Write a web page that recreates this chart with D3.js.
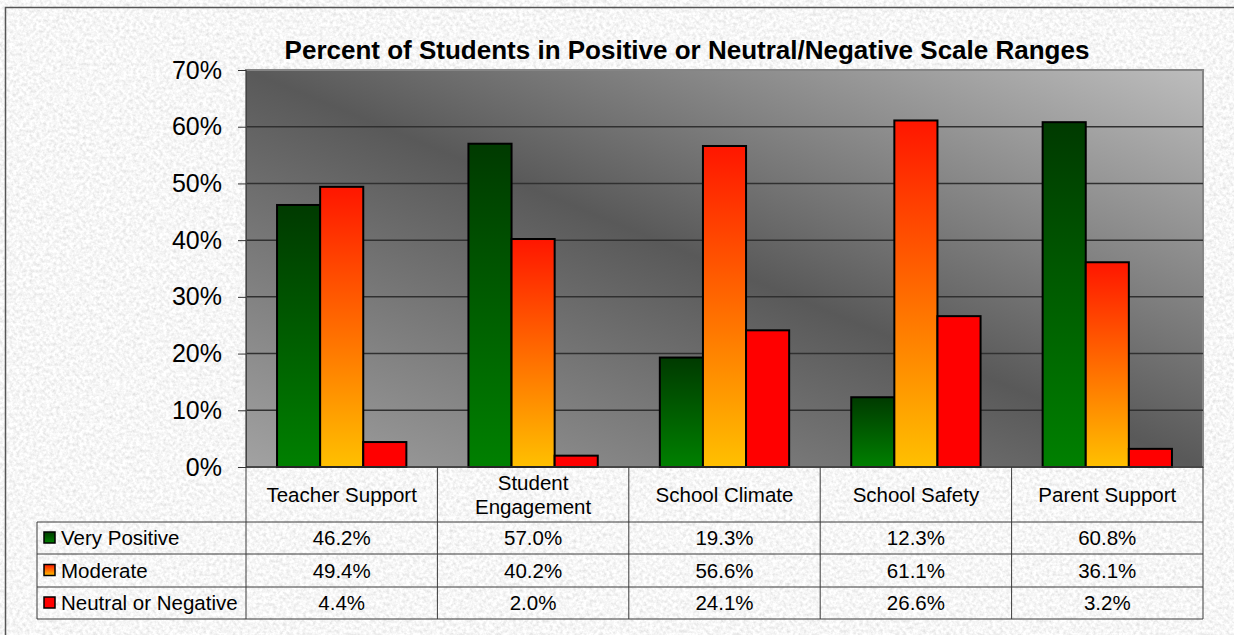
<!DOCTYPE html>
<html>
<head>
<meta charset="utf-8">
<script src="https://cdn.jsdelivr.net/npm/d3@7"></script>
<style>
  html, body { margin: 0; padding: 0; background: #ececec; }
  svg { display: block; font-family: "Liberation Sans", Arial, sans-serif; }
</style>
</head>
<body>
<svg id="chart" width="1234" height="635"></svg>
<script>
// Chart data
const categories = ["Teacher Support", "Student Engagement", "School Climate", "School Safety", "Parent Support"];
const seriesNames = ["Very Positive", "Moderate", "Neutral or Negative"];
const veryPositive = [46.2, 57.0, 19.3, 12.3, 60.8];
const moderate = [49.4, 40.2, 56.6, 61.1, 36.1];
const neutralNegative = [4.4, 2.0, 24.1, 26.6, 3.2];
const yTicks = [0, 10, 20, 30, 40, 50, 60, 70];
const title = "Percent of Students in Positive or Neutral/Negative Scale Ranges";

const seriesValues = [veryPositive, moderate, neutralNegative];
const fills = ["url(#gGreen)", "url(#gOrange)", "#ff0000"];

const svg = d3.select("#chart");
const W = 1234, H = 635;

// Plot area
const plotLeft = 246, plotRight = 1203, plotTop = 70, plotBottom = 467;
const tableLeft = 37;
const rowLines = [522, 554, 587, 619];

const defs = svg.append("defs");

// paper texture
const paper = defs.append("filter").attr("id", "paper")
  .attr("x", 0).attr("y", 0).attr("width", "100%").attr("height", "100%");
paper.append("feTurbulence")
  .attr("type", "fractalNoise")
  .attr("baseFrequency", 0.3)
  .attr("numOctaves", 3)
  .attr("seed", 7);
paper.append("feColorMatrix")
  .attr("type", "matrix")
  .attr("values", "0.45 0 0 0 0.7  0.45 0 0 0 0.7  0.45 0 0 0 0.7  0 0 0 0 1");

// plot background gradient (dark along the main diagonal)
const bg = defs.append("linearGradient").attr("id", "gPlot")
  .attr("x1", 0).attr("y1", 1).attr("x2", 1).attr("y2", 0);
bg.append("stop").attr("offset", 0).attr("stop-color", "#a2a2a2");
bg.append("stop").attr("offset", 0.5).attr("stop-color", "#595959");
bg.append("stop").attr("offset", 1).attr("stop-color", "#bdbdbd");

const gGreen = defs.append("linearGradient").attr("id", "gGreen")
  .attr("x1", 0).attr("y1", 0).attr("x2", 0).attr("y2", 1);
gGreen.append("stop").attr("offset", 0).attr("stop-color", "#003a00");
gGreen.append("stop").attr("offset", 1).attr("stop-color", "#008000");

const gOrange = defs.append("linearGradient").attr("id", "gOrange")
  .attr("x1", 0).attr("y1", 0).attr("x2", 0).attr("y2", 1);
gOrange.append("stop").attr("offset", 0).attr("stop-color", "#ff1600");
gOrange.append("stop").attr("offset", 1).attr("stop-color", "#ffc000");

// background
svg.append("rect").attr("width", W).attr("height", H)
  .attr("fill", "#ebebeb").attr("filter", "url(#paper)");

// outer chart border
svg.append("rect")
  .attr("x", 5.5).attr("y", 7.5)
  .attr("width", W + 20).attr("height", H + 20)
  .attr("fill", "none").attr("stroke", "#555").attr("stroke-width", 1.5);

// scales
const x0 = d3.scaleBand().domain(categories).range([plotLeft, plotRight]).padding(0);
const x1 = d3.scaleBand().domain(seriesNames).range([0, x0.bandwidth()])
  .paddingInner(0).paddingOuter(0.72);
const y = d3.scaleLinear().domain([0, 70]).range([plotBottom, plotTop]);

// plot area
svg.append("rect")
  .attr("x", plotLeft).attr("y", plotTop)
  .attr("width", plotRight - plotLeft).attr("height", plotBottom - plotTop)
  .attr("fill", "url(#gPlot)")
  .attr("stroke", "#858585").attr("stroke-width", 2);

// gridlines
svg.append("g")
  .selectAll("line")
  .data(yTicks.filter(t => t > 0 && t < 70))
  .enter()
  .append("line")
  .attr("x1", plotLeft).attr("x2", plotRight)
  .attr("y1", d => y(d)).attr("y2", d => y(d))
  .attr("stroke", "#303030").attr("stroke-width", 1.5);

// y axis
const yAxis = svg.append("g")
  .attr("transform", `translate(${plotLeft},0)`)
  .call(d3.axisLeft(y).tickValues(yTicks).tickSize(8).tickPadding(16)
    .tickFormat(d => d + "%"));
yAxis.select(".domain").attr("stroke", "#444");
yAxis.selectAll(".tick line").attr("stroke", "#333");
yAxis.selectAll(".tick text")
  .attr("font-size", 25)
  .attr("font-family", "Liberation Sans, Arial, sans-serif")
  .attr("fill", "#000");

// bars
const groups = svg.append("g")
  .selectAll("g")
  .data(categories)
  .enter()
  .append("g")
  .attr("transform", d => `translate(${x0(d)},0)`);

groups.selectAll("rect")
  .data((c, i) => seriesNames.map((s, j) => ({ s, j, v: seriesValues[j][i] })))
  .enter()
  .append("rect")
  .attr("x", d => x1(d.s))
  .attr("y", d => y(d.v))
  .attr("width", x1.bandwidth())
  .attr("height", d => y(0) - y(d.v))
  .attr("fill", d => fills[d.j])
  .attr("stroke", "#000")
  .attr("stroke-width", 2);

// bottom axis line
svg.append("line")
  .attr("x1", plotLeft).attr("x2", plotRight)
  .attr("y1", plotBottom).attr("y2", plotBottom)
  .attr("stroke", "#333").attr("stroke-width", 1.5);

// data table
const table = svg.append("g").attr("stroke", "#3a3a3a").attr("stroke-width", 1);

// vertical lines for category columns
const colEdges = categories.map(c => x0(c)).concat([plotRight]);
table.selectAll("line.v")
  .data(colEdges)
  .enter()
  .append("line")
  .attr("x1", d => d).attr("x2", d => d)
  .attr("y1", plotBottom).attr("y2", rowLines[rowLines.length - 1]);

table.append("line")
  .attr("x1", tableLeft).attr("x2", tableLeft)
  .attr("y1", rowLines[0]).attr("y2", rowLines[rowLines.length - 1]);

table.selectAll("line.h")
  .data(rowLines)
  .enter()
  .append("line")
  .attr("x1", tableLeft).attr("x2", plotRight)
  .attr("y1", d => d).attr("y2", d => d);

// header labels
const header = svg.append("g")
  .attr("font-size", 20.5).attr("text-anchor", "middle").attr("fill", "#000");
categories.forEach(c => {
  const cx = x0(c) + x0.bandwidth() / 2;
  const t = header.append("text").attr("x", cx).text(c);
  let lines = [c];
  if (t.node().getComputedTextLength() > x0.bandwidth() - 16) {
    const words = c.split(" ");
    lines = [words[0], words.slice(1).join(" ")];
  }
  t.text(null);
  const mid = (plotBottom + rowLines[0]) / 2 + 7;
  lines.forEach((ln, k) => {
    t.append("tspan")
      .attr("x", cx)
      .attr("y", mid + (k - (lines.length - 1) / 2) * 24)
      .text(ln);
  });
});

// legend rows and values
const rows = svg.append("g").attr("font-size", 20.5).attr("fill", "#000");
seriesNames.forEach((s, j) => {
  const cy = (rowLines[j] + rowLines[j + 1]) / 2;
  rows.append("rect")
    .attr("x", 44).attr("y", cy - 6)
    .attr("width", 11).attr("height", 11)
    .attr("fill", fills[j])
    .attr("stroke", "#000").attr("stroke-width", 1.5);
  rows.append("text")
    .attr("x", 61).attr("y", cy + 7)
    .text(s);
  categories.forEach((c, i) => {
    rows.append("text")
      .attr("x", x0(c) + x0.bandwidth() / 2)
      .attr("y", cy + 7)
      .attr("text-anchor", "middle")
      .text(seriesValues[j][i].toFixed(1) + "%");
  });
});

// title
svg.append("text")
  .attr("x", 687).attr("y", 59)
  .attr("text-anchor", "middle")
  .attr("font-size", 26).attr("font-weight", "bold")
  .attr("fill", "#000")
  .text(title);
</script>
</body>
</html>
